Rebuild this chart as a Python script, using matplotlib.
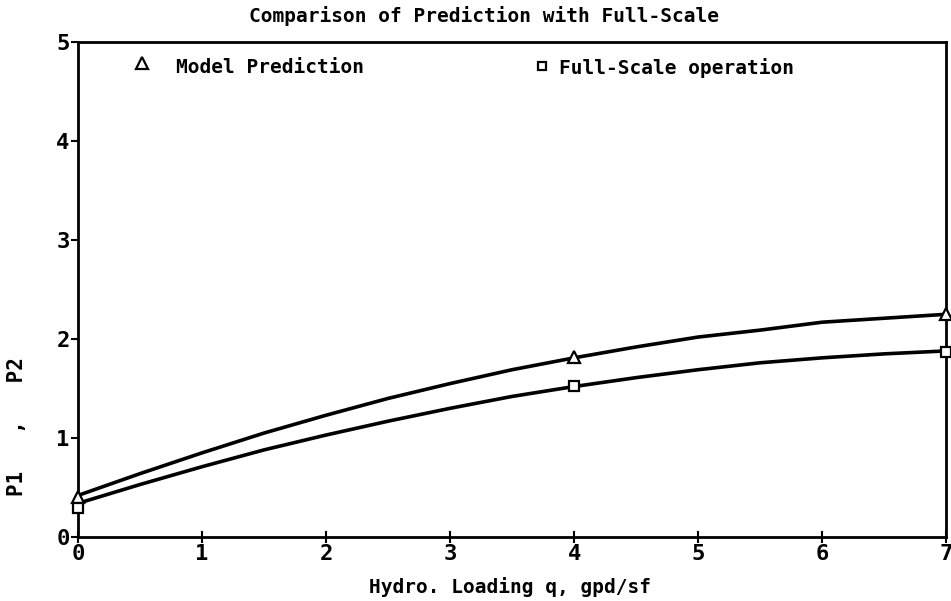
"""
Comparison of model prediction with full-scale operation (P1, P2 vs hydraulic loading).
"""

import matplotlib.pyplot as plt

# curve values at half-step loadings
curve_q = [0, 0.5, 1, 1.5, 2, 2.5, 3, 3.5, 4, 4.5, 5, 5.5, 6, 6.5, 7]
model_curve = [0.42, 0.64, 0.85, 1.05, 1.23, 1.40, 1.55, 1.69, 1.81,
               1.92, 2.02, 2.09, 2.17, 2.21, 2.25]
full_curve = [0.34, 0.53, 0.71, 0.88, 1.03, 1.17, 1.30, 1.42, 1.52,
              1.61, 1.69, 1.76, 1.81, 1.85, 1.88]

# measured points (markers)
point_q = [0, 4, 7]
model_pts = [0.40, 1.82, 2.25]
full_pts = [0.29, 1.53, 1.87]

xticks = [0, 1, 2, 3, 4, 5, 6, 7]
yticks = [0, 1, 2, 3, 4, 5]

FONT = "DejaVu Sans Mono"

fig = plt.figure(figsize=(9.51, 6.01), dpi=100)
ax = fig.add_axes([0.082, 0.1065, 0.913, 0.8235])

ax.plot(curve_q, model_curve, color="black", linewidth=2.6, zorder=2)
ax.plot(curve_q, full_curve, color="black", linewidth=2.6, zorder=2)
ax.plot(point_q, model_pts, linestyle="none", marker="^", markersize=8,
        markerfacecolor="white", markeredgecolor="black", markeredgewidth=1.6,
        clip_on=False, zorder=3)
ax.plot(point_q, full_pts, linestyle="none", marker="s", markersize=7,
        markerfacecolor="white", markeredgecolor="black", markeredgewidth=1.6,
        clip_on=False, zorder=3)

ax.set_xlim(0, 7)
ax.set_ylim(0, 5)
ax.set_xticks(xticks)
ax.set_yticks(yticks)
ax.set_xticklabels([str(t) for t in xticks], fontsize=16, fontweight="bold",
                   family=FONT)
ax.set_yticklabels([str(t) for t in yticks], fontsize=16, fontweight="bold",
                   family=FONT)
ax.tick_params(axis="x", direction="inout", length=8, width=1.5, pad=1)
ax.tick_params(axis="y", direction="out", length=5, width=1.5, pad=1)
for s in ax.spines.values():
    s.set_linewidth(2)

# legend drawn as in the original: marker + label inside the top of the axes
ax.plot([0.52], [4.79], marker="^", markersize=8, markerfacecolor="white",
        markeredgecolor="black", markeredgewidth=1.6, linestyle="none")
ax.text(0.79, 4.74, "Model Prediction", fontsize=14, fontweight="bold",
        family=FONT, va="center", ha="left")
ax.plot([3.74], [4.76], marker="s", markersize=6, markerfacecolor="white",
        markeredgecolor="black", markeredgewidth=1.6, linestyle="none")
ax.text(3.88, 4.74, "Full-Scale operation", fontsize=14, fontweight="bold",
        family=FONT, va="center", ha="left")

fig.text(484 / 951, 1 - 16 / 601, "Comparison of Prediction with Full-Scale",
         fontsize=14, fontweight="bold", family=FONT, ha="center", va="center")
fig.text(510 / 951, 1 - 587 / 601, "Hydro. Loading q, gpd/sf",
         fontsize=14, fontweight="bold", family=FONT, ha="center", va="center")
fig.text(17 / 951, 1 - 427 / 601, "P1   ,   P2", rotation=90,
         fontsize=15, fontweight="bold", family=FONT, ha="center", va="center")

fig.savefig("out.png", dpi=100)
